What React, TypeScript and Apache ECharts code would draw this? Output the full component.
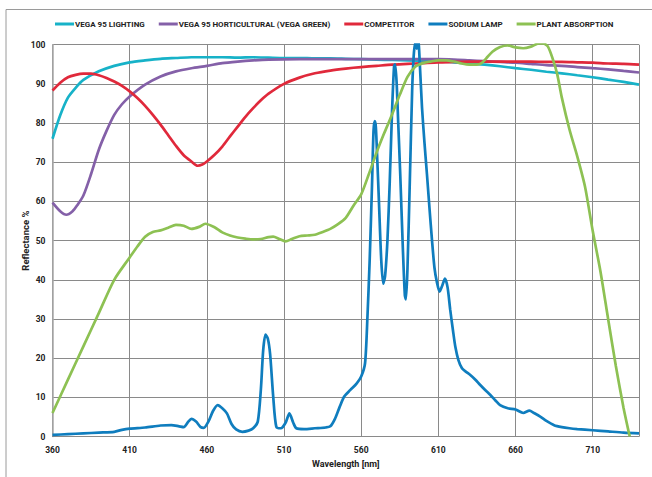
import React, { useEffect, useRef } from "react";
import * as echarts from "echarts";

const seriesNames = [
  "VEGA 95 LIGHTING",
  "VEGA 95 HORTICULTURAL (VEGA GREEN)",
  "COMPETITOR",
  "SODIUM LAMP",
  "PLANT ABSORPTION",
];

const lightingWl = [360, 365, 370, 375, 380, 390, 400, 410, 420, 430, 440, 450, 460, 470, 480, 490, 500, 510, 520, 530, 540, 550, 560, 570, 580, 590, 600, 610, 620, 630, 640, 650, 660, 670, 680, 690, 700, 710, 720, 730, 740];
const lightingVal = [76, 82, 86.5, 89, 91, 93.2, 94.6, 95.5, 96, 96.4, 96.6, 96.8, 96.8, 96.8, 96.7, 96.8, 96.7, 96.6, 96.6, 96.5, 96.5, 96.4, 96.3, 96.2, 96.1, 96.0, 95.9, 95.8, 95.5, 95.2, 94.9, 94.5, 94.0, 93.6, 93.1, 92.7, 92.2, 91.7, 91.1, 90.5, 89.8];

const hortiWl = [360, 365, 369, 373, 376, 380, 385, 390, 395, 400, 405, 410, 420, 430, 440, 450, 460, 470, 480, 490, 500, 520, 550, 580, 610, 620, 630, 640, 650, 660, 670, 680, 690, 700, 710, 720, 730, 740];
const hortiVal = [59.7, 57.5, 56.6, 57.5, 59, 61.5, 67, 73.2, 78, 82.1, 84.8, 86.8, 89.8, 91.9, 93.2, 94.0, 94.6, 95.3, 95.7, 96.0, 96.2, 96.3, 96.3, 96.3, 96.3, 96.2, 96.0, 95.8, 95.6, 95.4, 95.1, 94.8, 94.6, 94.3, 94.0, 93.7, 93.3, 92.9];

const competitorWl = [360, 365, 370, 375, 380, 385, 390, 395, 400, 405, 410, 415, 420, 425, 430, 435, 440, 445, 450, 454, 457, 460, 465, 470, 475, 480, 485, 490, 495, 500, 510, 520, 530, 540, 550, 560, 570, 580, 590, 600, 610, 620, 630, 640, 650, 660, 670, 680, 690, 700, 710, 720, 730, 740];
const competitorVal = [88.3, 90.3, 91.7, 92.3, 92.6, 92.6, 92.2, 91.5, 90.6, 89.5, 88.1, 86.4, 84.4, 82.1, 79.6, 76.9, 74.2, 71.8, 70.2, 69.1, 69.4, 70.2, 71.9, 74.0, 76.6, 79.1, 81.6, 83.8, 85.8, 87.5, 90.0, 91.6, 92.7, 93.4, 93.9, 94.3, 94.6, 94.9, 95.1, 95.3, 95.5, 95.6, 95.7, 95.7, 95.7, 95.7, 95.7, 95.6, 95.6, 95.5, 95.4, 95.2, 95.1, 94.9];

const sodiumWl = [360, 370, 380, 390, 400, 405, 410, 420, 430, 437, 442, 445, 448, 450, 453, 456, 458, 461, 464, 467, 470, 473, 476, 479, 483, 487, 490, 493, 495, 496.5, 498, 499.5, 501, 503, 505, 508, 511, 513.5, 516, 518, 523, 530, 537, 540, 543, 546, 549, 553, 557, 560, 562.5, 564, 565.5, 567, 568, 568.8, 569.5, 570.5, 571.5, 573, 574.3, 575.5, 577, 578.5, 580, 581.3, 582, 583, 584, 585.3, 587, 588.3, 589, 590, 591.5, 593, 594, 595, 596, 597, 598, 599.4, 601, 602.6, 604.3, 605.9, 607.5, 609, 610.8, 612.5, 614.3, 616, 617.7, 619.5, 621, 623, 625.3, 628, 630.7, 634, 637, 640.5, 643.7, 647, 650, 655, 660, 665, 669, 672, 676, 680, 685, 690, 695, 700, 710, 720, 730, 740];
const sodiumVal = [0.4, 0.6, 0.8, 1.0, 1.2, 1.7, 2.0, 2.3, 2.8, 2.9, 2.6, 2.4, 3.8, 4.5, 3.8, 2.4, 2.2, 3.8, 6.5, 8.0, 7.2, 5.9, 3.2, 1.8, 1.2, 1.5, 2.1, 3.8, 12, 22, 26, 25, 21, 10.2, 2.5, 2.1, 3.5, 5.9, 3.5, 2.1, 1.9, 2.1, 2.3, 2.6, 4.5, 7.5, 10.2, 11.9, 13.5, 15.3, 18.7, 30, 45, 64, 78, 80.5, 79, 70, 60, 45, 39, 41, 50, 65, 83, 94.5, 95, 90, 80, 67, 48, 36, 35, 43, 65, 88, 97, 100.5, 99, 101, 95, 84, 75, 67, 58, 50, 43, 39.5, 37, 38.5, 40.3, 38, 32.3, 27, 22.9, 19.5, 17.4, 16.5, 15.7, 14.5, 13.2, 11.8, 10.6, 9.2, 8.0, 7.2, 6.9, 6.0, 6.6, 6.0, 5.1, 4.0, 2.9, 2.4, 2.1, 1.9, 1.6, 1.3, 1.0, 0.8];

const plantWl = [360, 370, 380, 390, 400, 410, 415, 420, 425, 430, 435, 440, 445, 450, 455, 459, 465, 470, 475, 480, 485, 490, 495, 500, 503, 507, 511, 515, 520, 525, 530, 535, 540, 545, 550, 555, 560, 565, 570, 575, 580, 585, 590, 595, 600, 605, 610, 615, 620, 625, 630, 635, 638, 641, 645, 650, 655, 660, 665, 670, 675, 678, 681, 684, 687, 690, 695, 700, 705, 710, 715, 720, 725, 730, 734];
const plantVal = [6.0, 14.5, 23, 31.5, 40, 45.7, 48.5, 51, 52.2, 52.6, 53.3, 54.0, 53.8, 53.0, 53.5, 54.3, 53.4, 52.1, 51.3, 50.8, 50.5, 50.3, 50.4, 50.9, 51.0, 50.4, 49.8, 50.4, 51.1, 51.3, 51.5, 52.2, 53, 54.2, 55.8, 58.9, 61.8, 67, 72.5, 77.5, 82.2, 87.2, 91.8, 94.4, 95.3, 95.7, 96.0, 96.0, 95.7, 95.2, 94.9, 94.9, 95.3, 96.5, 98.2, 99.4, 99.8, 99.3, 99.1, 99.5, 100.3, 100.3, 99.5, 96.5, 92.5, 86.5, 78.3, 71.5, 63.8, 52.5, 42.2, 30, 18, 7.3, 0];

const seriesWl = [lightingWl, hortiWl, competitorWl, sodiumWl, plantWl];
const seriesVal = [lightingVal, hortiVal, competitorVal, sodiumVal, plantVal];
const seriesColors = ["#17B2C8", "#8460A8", "#E0293B", "#0F7DBE", "#8DC153"];

const xMin = 360;
const xMax = 740;
const xStep = 50;
const yMin = 0;
const yMax = 100;
const yStep = 10;

const FONT = "Roboto, 'Liberation Sans', Arial, sans-serif";

export default function App() {
  const ref = useRef<HTMLDivElement>(null);
  useEffect(() => {
    const chart = echarts.init(ref.current as HTMLDivElement, null, { renderer: "svg" });
    chart.setOption({
      animation: false,
      backgroundColor: "#ffffff",
      textStyle: { fontFamily: FONT },
      graphic: [
        {
          type: "rect",
          shape: { x: 6, y: 9.5, width: 700, height: 500 },
          style: { fill: "none", stroke: "#9a9a9a", lineWidth: 1 },
          silent: true,
          z: -1,
        },
      ],
      legend: {
        left: 55,
        top: 20,
        width: 620,
        padding: 0,
        icon: "rect",
        itemWidth: 19,
        itemHeight: 3,
        itemGap: 14,
        data: seriesNames,
        textStyle: {
          fontFamily: FONT,
          fontSize: 8,
          fontWeight: "bold",
          color: "#222",
          padding: [0, 0, 0, -4],
        },
      },
      grid: {
        left: 52.5,
        right: 13,
        top: 44.7,
        bottom: 40.5,
        outerBoundsMode: "none",
      },
      xAxis: {
        type: "value",
        min: xMin,
        max: xMax,
        interval: xStep,
        name: "Wavelength [nm]",
        nameLocation: "middle",
        nameGap: 23,
        nameMoveOverlap: false,
        nameTextStyle: { fontFamily: FONT, fontSize: 9, fontWeight: "bold", color: "#222" },
        axisLine: { show: true, lineStyle: { color: "#8a8a8a", width: 1 } },
        axisTick: { show: false },
        axisLabel: { fontFamily: FONT, fontSize: 8.5, fontWeight: "bold", color: "#222", margin: 9, showMaxLabel: false },
        splitLine: { show: true, lineStyle: { color: "#8a8a8a", width: 1 } },
      },
      yAxis: {
        type: "value",
        min: yMin,
        max: yMax,
        interval: yStep,
        name: "Reflectance %",
        nameLocation: "middle",
        nameGap: 22,
        nameMoveOverlap: false,
        nameTextStyle: { fontFamily: FONT, fontSize: 9.5, fontWeight: "bold", color: "#222" },
        axisLine: { show: true, lineStyle: { color: "#a8a8a8", width: 1.5 } },
        axisTick: { show: false },
        axisLabel: { fontFamily: FONT, fontSize: 8.5, fontWeight: "bold", color: "#222", margin: 7 },
        splitLine: { show: true, lineStyle: { color: "#8a8a8a", width: 1 } },
      },
      series: seriesNames.map((name, i) => ({
        name,
        type: "line",
        showSymbol: false,
        symbol: "none",
        smooth: 0.25,
        clip: true,
        color: seriesColors[i],
        lineStyle: { color: seriesColors[i], width: 2.7 },
        data: seriesWl[i].map((x, j) => [x, seriesVal[i][j]]),
        z: 2 + i,
      })),
    });
    return () => chart.dispose();
  }, []);
  return (
    <div
      ref={ref}
      style={{ position: "fixed", left: 0, top: 0, width: 652, height: 477 }}
    />
  );
}
